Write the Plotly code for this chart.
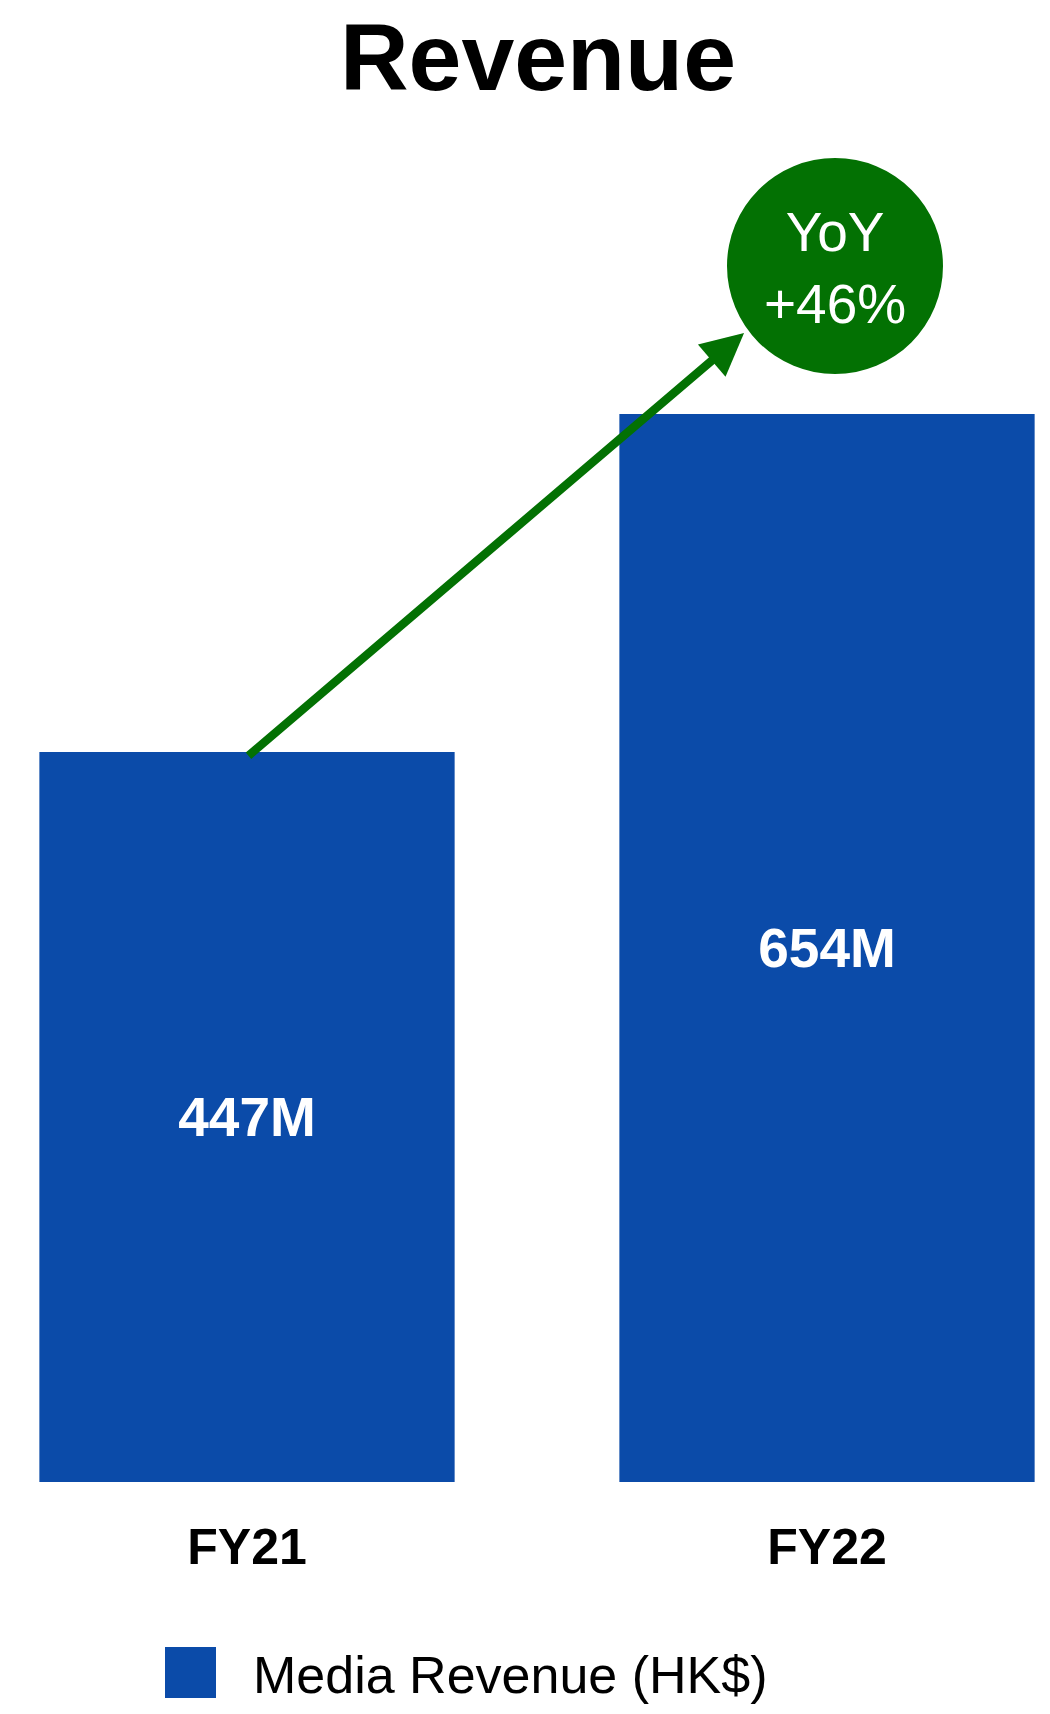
import plotly.graph_objects as go

# Revenue by fiscal year (HK$ millions)
years = ["FY21", "FY22"]
revenue = [447, 654]
series_name = "Media Revenue (HK$)"
chart_title = "Revenue"

BLUE = "#0b4ba9"
GREEN = "#037103"
FONT = "Liberation Sans, Arial, Helvetica, sans-serif"

W, H = 1050, 1714
M_TOP, M_BOT = 100, 232
plot_h = H - M_TOP - M_BOT
px_per_unit = 1.633
y_top = plot_h / px_per_unit

# category axis: 580 px between the two bar centres, first centre at 247 px
step = 580.0
x_min = -247.0 / step
x_max = x_min + W / step

yoy = round((revenue[1] / revenue[0] - 1) * 100)

fig = go.Figure()
fig.add_trace(go.Bar(
    x=list(range(len(years))),
    y=revenue,
    name=series_name,
    marker=dict(color=BLUE, line=dict(width=0)),
    texttemplate="%{y}M",
    textposition="inside",
    insidetextanchor="middle",
    textangle=0,
    textfont=dict(family=FONT, size=55, color="white", weight="bold"),
    width=0.716,
    showlegend=False,
    hoverinfo="skip",
))

# growth arrow from the top of FY21 towards the YoY badge
fig.add_annotation(
    x=0.857, y=703.6, xref="x", yref="y",
    ax=0, ay=revenue[0] - 3, axref="x", ayref="y",
    text="", showarrow=True,
    arrowhead=2, arrowsize=1.0, arrowwidth=8.5, arrowcolor=GREEN,
    standoff=0, startstandoff=0,
)

# YoY badge above FY22
fig.add_shape(
    type="circle", xref="x", yref="y",
    xsizemode="pixel", ysizemode="pixel",
    xanchor=1, yanchor=revenue[1],
    x0=-100, x1=116, y0=40, y1=256,
    fillcolor=GREEN, line=dict(width=0), layer="above",
)
fig.add_annotation(
    x=1, y=revenue[1], xref="x", yref="y",
    xshift=8, yshift=146,
    text=f"YoY<br>+{yoy}%", showarrow=False,
    font=dict(family=FONT, size=55, color="white"),
    align="center", xanchor="center", yanchor="middle",
)

# legend swatch and label
fig.add_shape(
    type="rect", xref="paper", yref="paper",
    xsizemode="pixel", ysizemode="pixel",
    xanchor=0, yanchor=0,
    x0=165, x1=216, y0=-216, y1=-165,
    fillcolor=BLUE, line=dict(width=0),
)
fig.add_annotation(
    x=251 / W, y=0, xref="paper", yref="paper",
    yshift=-193, xanchor="left", yanchor="middle",
    text=series_name, showarrow=False,
    font=dict(family=FONT, size=52, color="black"),
)

fig.update_layout(
    width=W, height=H,
    margin=dict(l=0, r=0, t=M_TOP, b=M_BOT, pad=0),
    paper_bgcolor="white", plot_bgcolor="white",
    title=dict(
        text=chart_title, x=538 / W, xanchor="center",
        y=1 - 56.5 / H, yref="container", yanchor="middle",
        font=dict(family=FONT, size=95, color="black", weight="bold"),
    ),
    xaxis=dict(
        range=[x_min, x_max], tickmode="array",
        tickvals=list(range(len(years))), ticktext=years,
        showgrid=False, zeroline=False, showline=False, ticks="",
        ticklabelstandoff=31,
        tickfont=dict(family=FONT, size=50, color="black", weight="bold"),
        fixedrange=True,
    ),
    yaxis=dict(
        range=[0, y_top], visible=False, showgrid=False, zeroline=False,
        fixedrange=True,
    ),
    showlegend=False,
)

fig.write_html("out.html")
